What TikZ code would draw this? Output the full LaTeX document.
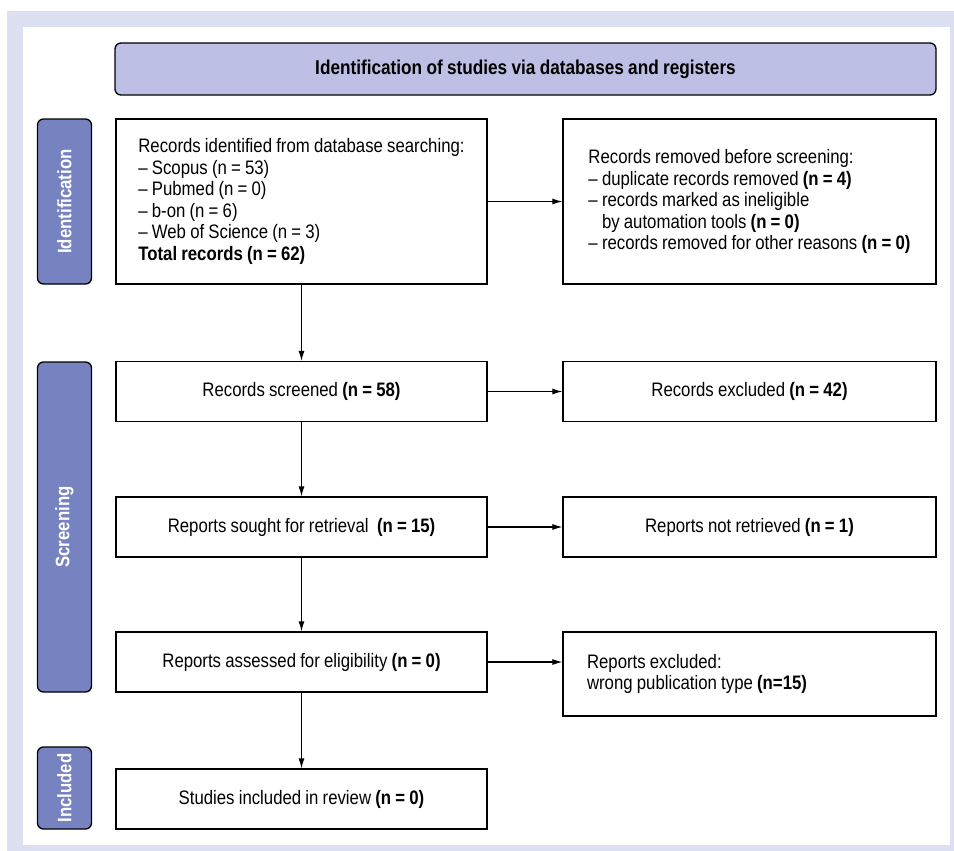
\documentclass[tikz,border=0pt]{standalone}
\usepackage{fontspec}
\setmainfont{Liberation Sans}[FakeStretch=0.86, WordSpace=0.9]
\usetikzlibrary{arrows.meta}
\usetikzlibrary{math}
\definecolor{framelav}{RGB}{221,224,241}
\definecolor{headlav}{RGB}{189,192,228}
\definecolor{sideblue}{RGB}{118,131,192}

\tikzset{
  flowbox/.style={draw, line width=1.3pt, fill=white, minimum width=371pt, inner xsep=6pt, inner ysep=0pt},
  sidebox/.style={draw, line width=1.3pt, fill=sideblue, rounded corners=6pt, minimum width=54pt, text=white, font=\fontsize{19.5}{22}\selectfont\bfseries},
  flowarrow/.style={line width=1.1pt, -{Latex[length=10pt,width=6pt]}},
}

\begin{document}
\begin{tikzpicture}[x=1pt, y=-1pt, font=\fontsize{19.5}{21.5}\selectfont]
\tikzmath{
\xl=301.5;
\xr=749.5;
\xs=64.5;
}
\useasboundingbox (0,0) rectangle (954,851);

%frame
\fill[framelav] (7,11) rectangle (954,851);
\fill[white] (23,27) rectangle (950,845);

%header
\node[draw, line width=1.3pt, fill=headlav, rounded corners=6pt, minimum width=821pt, minimum height=52pt, font=\fontsize{20}{22}\selectfont\bfseries] (head) at (525.5,69) {Identification of studies via databases and registers};

%side labels
\node[sidebox, minimum height=165pt] (sideid) at (\xs,201.5) {\rotatebox{90}{Identification}};
\node[sidebox, minimum height=330pt] (sidescr) at (\xs,527) {\rotatebox{90}{Screening}};
\node[sidebox, minimum height=82pt] (sideinc) at (\xs,788) {\rotatebox{90}{Included}};

%left column
\node[flowbox, minimum height=165pt, align=left] (ident) at (\xl,201.5) {Records identified from database searching:\\
– Scopus (n = 53)\\
– Pubmed (n = 0)\\
– b-on (n = 6)\\
– Web of Science (n = 3)\\
\textbf{Total records (n = 62)}};
\node[flowbox, minimum height=60pt, align=center] (screened) at (\xl,391.5) {Records screened \textbf{(n = 58)}};
\node[flowbox, minimum height=60pt, align=center] (sought) at (\xl,527) {Reports sought for retrieval~ \textbf{(n = 15)}};
\node[flowbox, minimum height=60pt, align=center] (assessed) at (\xl,662) {Reports assessed for eligibility \textbf{(n = 0)}};
\node[flowbox, minimum height=60pt, align=center] (included) at (\xl,799) {Studies included in review \textbf{(n = 0)}};

%right column
\node[flowbox, minimum width=373pt, minimum height=165pt, align=left] (removed) at (\xr,201.5) {Records removed before screening:\\
– duplicate records removed \textbf{(n = 4)}\\
– records marked as ineligible\\
\hphantom{– }by automation tools \textbf{(n = 0)}\\
– records removed for other reasons \textbf{(n = 0)}};
\node[flowbox, minimum width=373pt, minimum height=60pt, align=center] (excluded) at (\xr,391.5) {Records excluded \textbf{(n = 42)}};
\node[flowbox, minimum width=373pt, minimum height=60pt, align=center] (notret) at (\xr,527) {Reports not retrieved \textbf{(n = 1)}};
\node[flowbox, minimum width=373pt, minimum height=84pt, text width=325pt, inner xsep=24pt, align=flush left] (repexcl) at (\xr,674) {Reports excluded:\\
wrong publication type \textbf{(n=15)}};

%arrows
\draw[flowarrow] (ident) -- (screened);
\draw[flowarrow] (screened) -- (sought);
\draw[flowarrow] (sought) -- (assessed);
\draw[flowarrow] (assessed) -- (included);
\draw[flowarrow] (ident) -- (removed);
\draw[flowarrow] (screened) -- (excluded);
\draw[flowarrow] (sought) -- (notret);
\draw[flowarrow] (assessed.east) -- (assessed.east -| repexcl.west);
\end{tikzpicture}
\end{document}
